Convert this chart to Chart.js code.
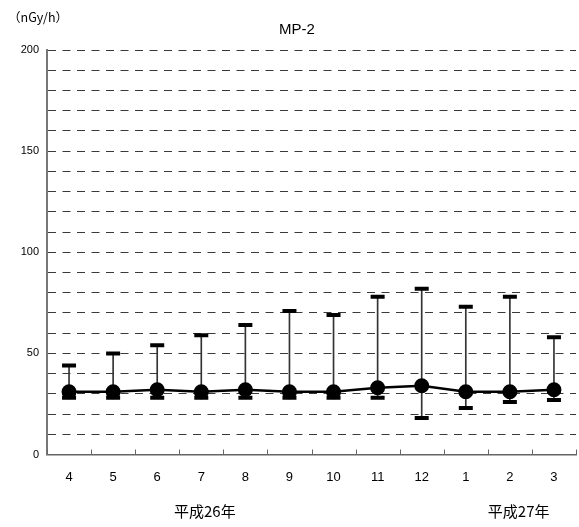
<!DOCTYPE html>
<html>
<head>
<meta charset="utf-8">
<script src="https://cdn.jsdelivr.net/npm/chart.js@4/dist/chart.umd.min.js"></script>
<style>
  html, body { margin: 0; padding: 0; background: #fff; }
  #wrap { width: 579px; height: 527px; }
</style>
</head>
<body>
<div id="wrap"><canvas id="c" width="579" height="527"></canvas></div>
<script>
// Monthly air dose rate at MP-2 (nGy/h): monthly mean with min/max range
const months = ['4', '5', '6', '7', '8', '9', '10', '11', '12', '1', '2', '3'];
const meanValues = [31, 31, 32, 31, 32, 31, 31, 33, 34, 31, 31, 32];
const maxValues  = [44, 50, 54, 59, 64, 71, 69, 78, 82, 73, 78, 58];
const minValues  = [28, 28, 28, 28, 28, 28, 28, 28, 18, 23, 26, 27];
const yearLabels = [
  { text: '平成26年', at: 3.08 },
  { text: '平成27年', at: 10.2 }
];
const unitLabel = '（nGy/h）';
const titleText = 'MP-2';

const rangeData = minValues.map((v, i) => [v, maxValues[i]]);

const annotations = {
  id: 'annotations',
  afterDraw(chart) {
    const { ctx, chartArea, scales: { x } } = chart;
    ctx.save();
    // short upward tick marks between months on the bottom axis
    ctx.strokeStyle = '#666';
    ctx.lineWidth = 1;
    for (let i = 0; i <= months.length; i++) {
      const px = Math.round(x.getPixelForValue(i - 0.5)) + 0.5;
      ctx.beginPath();
      ctx.moveTo(px, chartArea.bottom);
      ctx.lineTo(px, chartArea.bottom - 5);
      ctx.stroke();
    }
    ctx.fillStyle = '#000';
    ctx.textBaseline = 'middle';
    ctx.textAlign = 'left';
    ctx.font = '12.5px "Noto Sans CJK JP", sans-serif';
    ctx.fillText(unitLabel, 8, 17);
    ctx.textAlign = 'center';
    ctx.font = '15px "Liberation Sans", Arial, sans-serif';
    ctx.fillText(titleText, 297, 30);
    ctx.font = '15px "Noto Sans CJK JP", sans-serif';
    yearLabels.forEach(l => {
      ctx.fillText(l.text, x.getPixelForValue(l.at), 511);
    });
    ctx.restore();
  }
};

new Chart(document.getElementById('c'), {
  data: {
    labels: months,
    datasets: [
      {
        type: 'line',
        label: 'mean',
        data: meanValues,
        borderColor: '#000',
        borderWidth: 2.5,
        pointRadius: 6.5,
        pointBorderWidth: 2,
        pointBackgroundColor: '#000',
        pointBorderColor: '#000',
        tension: 0,
        order: 1
      },
      {
        type: 'line',
        label: 'max',
        data: maxValues,
        showLine: false,
        pointStyle: 'line',
        pointRadius: 7,
        pointBorderWidth: 4,
        pointBorderColor: '#000',
        order: 2
      },
      {
        type: 'line',
        label: 'min',
        data: minValues,
        showLine: false,
        pointStyle: 'line',
        pointRadius: 7,
        pointBorderWidth: 4,
        pointBorderColor: '#000',
        order: 2
      },
      {
        type: 'bar',
        label: 'range',
        data: rangeData,
        backgroundColor: '#333',
        barThickness: 1,
        order: 3
      }
    ]
  },
  options: {
    responsive: false,
    devicePixelRatio: 1,
    animation: false,
    layout: { autoPadding: false, padding: { top: 50, right: 3, left: 0, bottom: 0 } },
    plugins: {
      legend: { display: false },
      tooltip: { enabled: false },
      title: { display: false }
    },
    scales: {
      x: {
        type: 'category',
        offset: true,
        grid: {
          display: true,
          drawOnChartArea: false,
          drawTicks: true,
          tickLength: 12,
          tickColor: 'rgba(0,0,0,0)'
        },
        border: { display: true, color: '#666', width: 1.5 },
        ticks: {
          color: '#000',
          font: { family: '"Liberation Sans", Arial, sans-serif', size: 13 },
          padding: 3,
          maxRotation: 0,
          autoSkip: false
        },
        afterFit(scale) { scale.height = 72.5; }
      },
      y: {
        min: 0,
        max: 200,
        grid: { color: '#3a3a3a', lineWidth: 1, drawTicks: false },
        border: { display: true, color: '#777', width: 2, dash: [8, 6.5] },
        ticks: {
          stepSize: 10,
          color: '#000',
          font: { family: '"Liberation Sans", Arial, sans-serif', size: 11 },
          padding: 8,
          callback: v => (v % 50 === 0 ? String(v) : '')
        },
        afterFit(scale) { scale.width = 47; }
      }
    }
  },
  plugins: [annotations]
});
</script>
</body>
</html>
